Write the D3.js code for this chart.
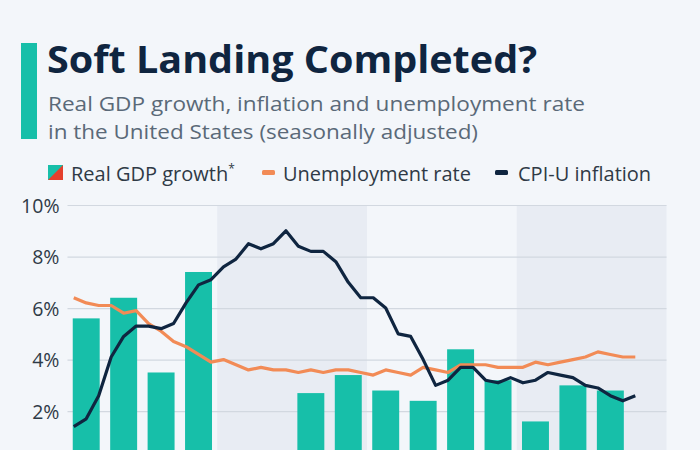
<!DOCTYPE html>
<html><head><meta charset="utf-8">
<script src="https://cdn.jsdelivr.net/npm/d3@7"></script>
<style>html,body{margin:0;padding:0;background:#f3f6fa;} svg{display:block;}</style>
</head><body><svg id="c" width="700" height="450"></svg>
<script>
// ---- data ----
const years = ["2021", "2022", "2023", "2024"];
const quarters = ["Q1 2021","Q2 2021","Q3 2021","Q4 2021","Q1 2022","Q2 2022","Q3 2022","Q4 2022",
                  "Q1 2023","Q2 2023","Q3 2023","Q4 2023","Q1 2024","Q2 2024","Q3 2024","Q4 2024"];
const gdpGrowth = [5.6, 6.4, 3.5, 7.4, -1.0, -0.3, 2.7, 3.4, 2.8, 2.4, 4.4, 3.2, 1.6, 3.0, 2.8, null];
const monthNames = ["Jan","Feb","Mar","Apr","May","Jun","Jul","Aug","Sep","Oct","Nov","Dec"];
const months = years.flatMap(y => monthNames.map(m => m + " " + y));
const unemploymentRate = [6.4, 6.2, 6.1, 6.1, 5.8, 5.9, 5.4, 5.1, 4.7, 4.5, 4.2, 3.9,
                          4.0, 3.8, 3.6, 3.7, 3.6, 3.6, 3.5, 3.6, 3.5, 3.6, 3.6, 3.5,
                          3.4, 3.6, 3.5, 3.4, 3.7, 3.6, 3.5, 3.8, 3.8, 3.8, 3.7, 3.7,
                          3.7, 3.9, 3.8, 3.9, 4.0, 4.1, 4.3, 4.2, 4.1, 4.1];
const cpiInflation = [1.4, 1.7, 2.6, 4.1, 4.9, 5.3, 5.3, 5.2, 5.4, 6.2, 6.9, 7.1,
                      7.6, 7.9, 8.5, 8.3, 8.5, 9.0, 8.4, 8.2, 8.2, 7.8, 7.0, 6.4,
                      6.4, 6.0, 5.0, 4.9, 4.0, 3.0, 3.2, 3.7, 3.7, 3.2, 3.1, 3.3,
                      3.1, 3.2, 3.5, 3.4, 3.3, 3.0, 2.9, 2.6, 2.4, 2.6];
const yTicks = [2, 4, 6, 8, 10];
const legendLabels = ["Real GDP growth", "Unemployment rate", "CPI-U inflation"];

// ---- styles ----
const C = {teal: "#17bfa9", red: "#e4402d", orange: "#f28b56", navy: "#0f2540",
           grid: "#d2d8e0", bandDark: "#e8ecf3", text: "#2f3a46", sub: "#5a6978"};
const FONT = "'Open Sans', 'Noto Sans', sans-serif";

const svg = d3.select("#c");
svg.append("rect").attr("width", 700).attr("height", 450).attr("fill", "#f3f6fa");

const x0 = 67.5, x1 = 666.5;
const xYear = d3.scaleBand().domain(years).range([x0, x1]);
const xQ = d3.scaleBand().domain(quarters).range([x0, x1]).paddingInner(0.28).paddingOuter(0.14);
const xM = d3.scaleBand().domain(months).range([x0, x1]);
const y = d3.scaleLinear().domain([-2, 10]).range([514.2, 205.0]);

// header
svg.append("rect").attr("x", 21).attr("y", 43).attr("width", 16).attr("height", 96).attr("fill", C.teal);
svg.append("text").attr("x", 47).attr("y", 73).attr("font-family", FONT)
  .attr("font-weight", 700).attr("font-size", 38).attr("fill", C.navy).text("Soft Landing Completed?")
  .attr("textLength", 490).attr("lengthAdjust", "spacingAndGlyphs");
svg.append("text").attr("x", 48).attr("y", 111).attr("font-family", FONT)
  .attr("font-size", 20.5).attr("fill", C.sub).text("Real GDP growth, inflation and unemployment rate")
  .attr("textLength", 537).attr("lengthAdjust", "spacingAndGlyphs");
svg.append("text").attr("x", 48).attr("y", 139).attr("font-family", FONT)
  .attr("font-size", 20.5).attr("fill", C.sub).text("in the United States (seasonally adjusted)")
  .attr("textLength", 430).attr("lengthAdjust", "spacingAndGlyphs");

// legend
const lg = svg.append("g").attr("font-family", FONT).attr("font-size", 20).attr("fill", C.text);
lg.append("rect").attr("x", 48).attr("y", 165).attr("width", 15).attr("height", 15).attr("fill", C.teal);
lg.append("path").attr("d", "M48,180L63,165L63,180Z").attr("fill", C.red);
const lt1 = lg.append("text").attr("x", 71).attr("y", 181).text(legendLabels[0]);
lt1.append("tspan").attr("font-size", 12).attr("dy", -8).text("*");
lg.append("rect").attr("x", 262).attr("y", 170).attr("width", 13).attr("height", 5).attr("rx", 1.5).attr("fill", C.orange);
lg.append("text").attr("x", 283).attr("y", 181).text(legendLabels[1]);
lg.append("rect").attr("x", 495).attr("y", 170).attr("width", 13).attr("height", 5).attr("rx", 1.5).attr("fill", C.navy);
lg.append("text").attr("x", 518).attr("y", 181).text(legendLabels[2]);

// year shading
svg.append("g").selectAll("rect").data(years.filter((d, i) => i % 2 === 1)).join("rect")
  .attr("x", d => xYear(d)).attr("width", xYear.bandwidth())
  .attr("y", y(10)).attr("height", 460 - y(10)).attr("fill", C.bandDark);

// grid + y axis labels
const yAxis = d3.axisLeft(y).tickValues(yTicks).tickSize(-(x1 - x0)).tickFormat(d => d + "%");
const ga = svg.append("g").attr("transform", `translate(${x0},0)`).call(yAxis);
ga.select(".domain").remove();
ga.selectAll(".tick line").attr("stroke", C.grid).attr("stroke-width", 1.2);
ga.selectAll(".tick text").attr("x", -8).attr("dy", "0.36em").attr("font-family", FONT)
  .attr("font-size", 19.5).attr("fill", C.text);

// bars
svg.append("g").selectAll("rect").data(quarters.map((q, i) => ({q, v: gdpGrowth[i]})).filter(d => d.v !== null))
  .join("rect")
  .attr("x", d => xQ(d.q)).attr("width", xQ.bandwidth())
  .attr("y", d => y(Math.max(0, d.v))).attr("height", d => Math.abs(y(d.v) - y(0)))
  .attr("fill", d => d.v >= 0 ? C.teal : C.red);

// lines
const line = d3.line().x((d, i) => xM(months[i]) + xM.bandwidth() / 2).y(d => y(d));
svg.append("path").datum(unemploymentRate).attr("d", line).attr("fill", "none")
  .attr("stroke", C.orange).attr("stroke-width", 3.2).attr("stroke-linejoin", "round");
svg.append("path").datum(cpiInflation).attr("d", line).attr("fill", "none")
  .attr("stroke", C.navy).attr("stroke-width", 3.2).attr("stroke-linejoin", "round");
</script></body></html>
